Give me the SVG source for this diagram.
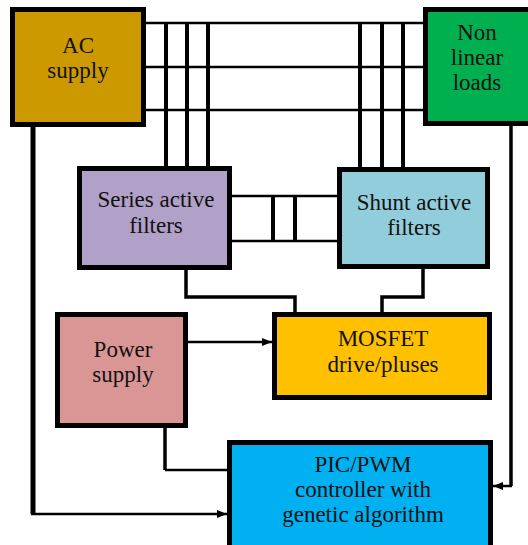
<svg xmlns="http://www.w3.org/2000/svg" width="528" height="545" viewBox="0 0 528 545">
<style>
.box{stroke:#000;stroke-width:5}
.t{font-family:'Liberation Serif','Times New Roman',Times,'DejaVu Serif',serif;font-size:23px;fill:#111;text-anchor:middle}
.thin{fill:none;stroke:#000;stroke-width:2.5}
.thick{fill:none;stroke:#000;stroke-width:4}
.mid{fill:none;stroke:#000;stroke-width:3.5}
</style>
<defs>
<marker id="arr" viewBox="0 0 10 8" refX="10" refY="4" markerWidth="10" markerHeight="8" markerUnits="userSpaceOnUse" orient="auto">
<path d="M0,0 L10,4 L0,8 Z" fill="#000"/>
</marker>
</defs>
<rect width="528" height="545" fill="#fff"/>
<g id="connectors">
<path class="thin" d="M146 23 H423 M146 67 H423 M146 110 H423"/>
<path class="thick" d="M166 23 V166 M187 23 V166 M208 23 V166"/>
<path class="thick" d="M360 23 V167 M382 23 V167 M403 23 V167"/>
<path class="thin" d="M232 196 H337 M232 241 H337"/>
<path class="thick" d="M273 196 V241 M295 196 V241"/>
<path class="mid" d="M186 270 V297 H295 V312"/>
<path class="mid" d="M423 269 V297 H382 V312"/>
<path class="thin" d="M188 342 H272" marker-end="url(#arr)"/>
<path class="mid" d="M165 428 V470"/>
<path class="thin" d="M165 470 H227"/>
<path class="thick" d="M33 127 V514" style="stroke-width:5"/>
<path class="thin" d="M31 514 H227" marker-end="url(#arr)"/>
<path class="mid" d="M511 126 V486"/>
<path class="thin" d="M512 486 H493" marker-end="url(#arr)"/>
</g>
<g id="ac-supply">
<rect class="box" x="12.5" y="9.5" width="131" height="115" fill="#CC9900"/>
<text class="t" x="78" y="53" font-family="Liberation Serif, serif">AC</text>
<text class="t" x="78" y="78">supply</text>
</g>
<g id="non-linear-loads">
<rect class="box" x="425.5" y="9.5" width="110" height="114" fill="#00B050"/>
<text class="t" x="477" y="40">Non</text>
<text class="t" x="477" y="65">linear</text>
<text class="t" x="477" y="90">loads</text>
</g>
<g id="series-active-filters">
<rect class="box" x="79.5" y="168.5" width="150" height="99" fill="#B1A0C7"/>
<text class="t" x="156" y="207">Series active</text>
<text class="t" x="156" y="233">filters</text>
</g>
<g id="shunt-active-filters">
<rect class="box" x="339.5" y="169.5" width="148" height="97" fill="#92CDDC"/>
<text class="t" x="414" y="210">Shunt active</text>
<text class="t" x="414" y="235">filters</text>
</g>
<g id="mosfet">
<rect class="box" x="274.5" y="314.5" width="215" height="83" fill="#FFC000"/>
<text class="t" x="383" y="346">MOSFET</text>
<text class="t" x="383" y="372">drive/pluses</text>
</g>
<g id="power-supply">
<rect class="box" x="57.5" y="314.5" width="128" height="111" fill="#DA9694"/>
<text class="t" x="123" y="357">Power</text>
<text class="t" x="123" y="382">supply</text>
</g>
<g id="pic-pwm">
<rect class="box" x="229.5" y="442.5" width="261" height="110" fill="#00B0F0"/>
<text class="t" x="363" y="472">PIC/PWM</text>
<text class="t" x="363" y="497">controller with</text>
<text class="t" x="363" y="522">genetic algorithm</text>
</g>
</svg>
